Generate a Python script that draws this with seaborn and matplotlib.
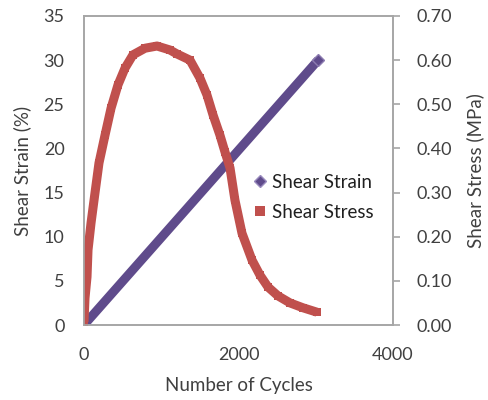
import matplotlib
matplotlib.use("Agg")
import matplotlib.pyplot as plt
from matplotlib.lines import Line2D
import seaborn as sns
import pandas as pd

# ---- data ----
strain_cycles = [0, 500, 1000, 1500, 2000, 2500, 3030]
strain_pct = [0.0, 4.95, 9.9, 14.85, 19.8, 24.75, 30.0]

stress_cycles = [0, 13, 39, 52, 91, 142, 194, 272, 350, 440, 531, 634, 790,
                 945, 1113, 1204, 1372, 1502, 1592, 1670, 1760, 1825, 1890,
                 1954, 2045, 2175, 2278, 2382, 2511, 2667, 2835, 3016]
stress_mpa = [0.007, 0.061, 0.109, 0.170, 0.231, 0.299, 0.367, 0.430, 0.491,
              0.544, 0.582, 0.612, 0.627, 0.632, 0.623, 0.614, 0.600, 0.559,
              0.521, 0.476, 0.430, 0.392, 0.356, 0.283, 0.208, 0.147, 0.113,
              0.086, 0.066, 0.050, 0.039, 0.029]

x_ticks = [0, 2000, 4000]
left_ticks = [0, 5, 10, 15, 20, 25, 30, 35]
right_ticks = [0.0, 0.1, 0.2, 0.3, 0.4, 0.5, 0.6, 0.7]

purple = "#5F4B8B"
red = "#C0504D"
grey = "#A6A6A6"
txt = "#404040"

sns.set_style("white")
plt.rcParams["font.family"] = ["Lato", "DejaVu Sans"]
FS = 13

fig = plt.figure(figsize=(4.89, 4.0), dpi=100)
W, H = 489, 400
L, R, T, B = 84, 393, 16, 325
ax = fig.add_axes([L / W, 1 - B / H, (R - L) / W, (B - T) / H])
ax2 = ax.twinx()

df_s = pd.DataFrame({"cycles": strain_cycles, "strain": strain_pct})
df_t = pd.DataFrame({"cycles": stress_cycles, "stress": stress_mpa})

sns.lineplot(data=df_s, x="cycles", y="strain", ax=ax, color=purple,
             linewidth=6.5, solid_capstyle="butt", legend=False)
ax.plot([strain_cycles[-1]], [strain_pct[-1]], marker="D", ms=6,
        color=purple, mec="#8C7BB0", mew=1, ls="none")

sns.lineplot(data=df_t, x="cycles", y="stress", ax=ax2, color=red,
             linewidth=6.5, solid_capstyle="butt", solid_joinstyle="round",
             legend=False, marker="s", markersize=5.5, markeredgewidth=0)

ax.set_xlim(0, 4000)
ax.set_ylim(0, 35)
ax2.set_ylim(0, 0.7)
ax.set_xticks(x_ticks)
ax.set_yticks(left_ticks)
ax2.set_yticks(right_ticks)
ax2.set_yticklabels([f"{v:.2f}" for v in right_ticks])

for a in (ax, ax2):
    for s in a.spines.values():
        s.set_color(grey)
        s.set_linewidth(1.2)

ax.tick_params(axis="y", length=0, pad=14, labelsize=FS, colors=txt)
ax.tick_params(axis="x", length=0, pad=16, labelsize=FS, colors=txt)
ax2.tick_params(axis="y", length=5, width=1.2, color=grey, pad=12,
                labelsize=FS, labelcolor=txt, direction="out")

ax.set_xlabel("Number of Cycles", fontsize=FS + 0.5, color=txt)
ax.set_ylabel("Shear Strain (%)", fontsize=FS + 0.5, color=txt)
ax2.set_ylabel("Shear Stress (MPa)", fontsize=FS + 0.5, color=txt)
ax.xaxis.set_label_coords((239 - L) / (R - L), -(386 - B) / (B - T))
ax.yaxis.set_label_coords(-(L - 22) / (R - L), 0.5)
ax2.yaxis.set_label_coords(1 + (475 - R) / (R - L), 0.5)
ax2.yaxis.label.set_rotation(90)
for lab in (ax.xaxis.label, ax.yaxis.label, ax2.yaxis.label):
    lab.set_va("center")
    lab.set_ha("center")

handles = [
    Line2D([], [], ls="none", marker="D", ms=6, color=purple,
           mec="#9A8BBE", mew=1),
    Line2D([], [], ls="none", marker="s", ms=6.5, color=red, mew=0),
]
fig.legend(handles, ["Shear Strain", "Shear Stress"], loc="upper left",
           bbox_to_anchor=(246 / W, 1 - 166 / H), frameon=False,
           fontsize=FS + 0.5, labelcolor="#202020", handlelength=0.7,
           handletextpad=0.3, labelspacing=0.72, borderaxespad=0)

fig.savefig("out.png", dpi=100)
